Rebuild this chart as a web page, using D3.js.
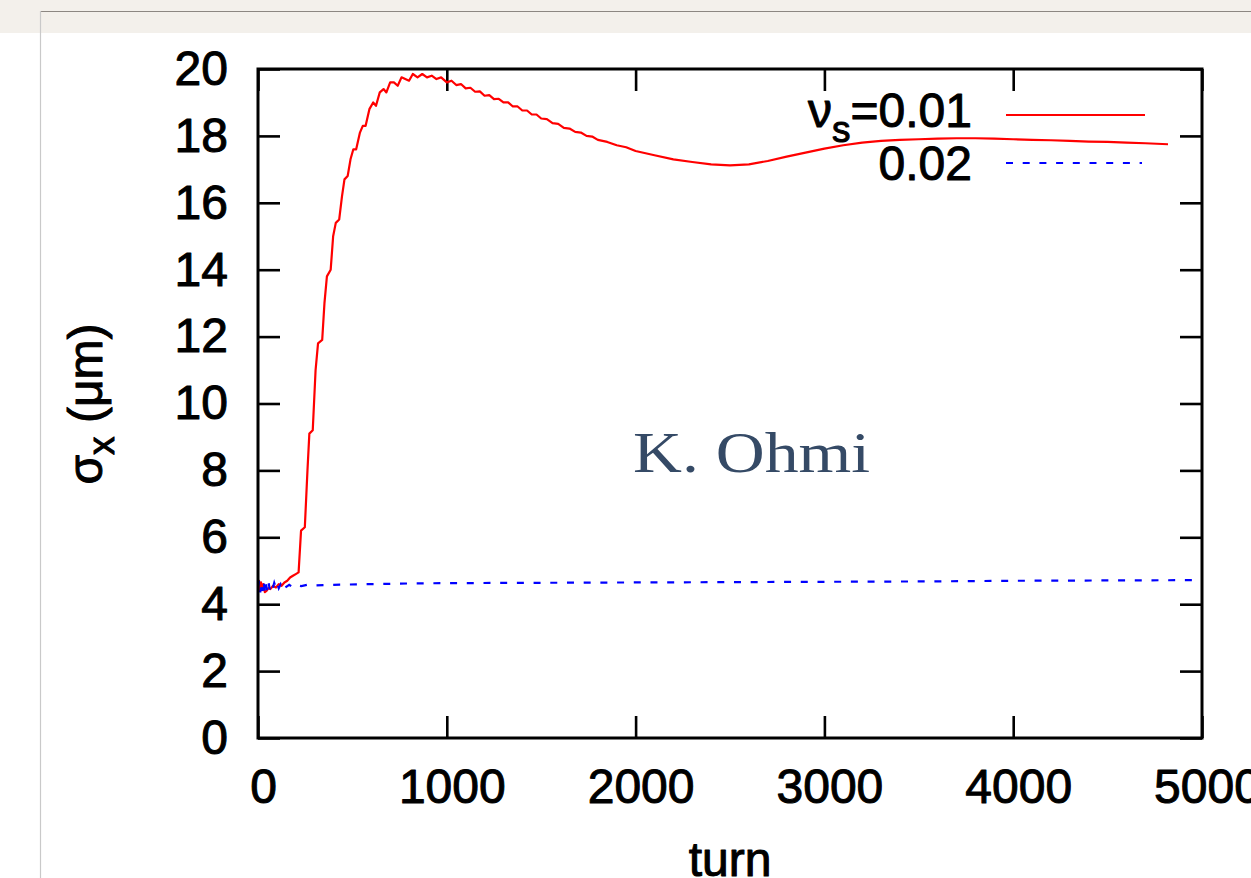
<!DOCTYPE html>
<html>
<head>
<meta charset="utf-8">
<script src="https://cdn.jsdelivr.net/npm/d3@7"></script>
<style>
  html, body { margin: 0; padding: 0; background: #ffffff; }
  svg { display: block; }
</style>
</head>
<body>
<svg id="chart" width="1251" height="878"></svg>
<script>
// Axis ticks
const xTicks = [0, 1000, 2000, 3000, 4000, 5000];
const yTicks = [0, 2, 4, 6, 8, 10, 12, 14, 16, 18, 20];

// Horizontal beam size vs. turn, synchrotron tune 0.01
const turnsA = [0, 5, 10, 16, 22, 28, 36, 45, 55, 65, 80, 95, 110, 125, 140, 155, 170, 185, 200, 215,
  228, 248, 262, 272, 290, 305, 318, 340, 352, 365, 385, 398, 412, 430, 445, 458, 475, 490, 505, 520,
  540, 555, 570, 590, 610, 625, 645, 665, 680, 700, 720, 740, 760, 780, 800, 820, 845, 870, 895, 920,
  945, 970, 1000, 1025, 1050, 1075, 1100, 1125, 1150, 1175, 1200, 1225, 1250, 1275, 1300, 1325, 1350,
  1375, 1400, 1425, 1450, 1475, 1500, 1530, 1560, 1590, 1620, 1650, 1680, 1710, 1740, 1770, 1800,
  1850, 1900, 1950, 2000, 2100, 2200, 2300, 2400, 2500, 2600, 2700, 2800, 2900, 3000, 3100, 3200,
  3300, 3400, 3500, 3600, 3700, 3800, 3900, 4000, 4100, 4200, 4300, 4400, 4500, 4600, 4700, 4820];
const sigmaA = [4.55, 4.7, 4.4, 4.65, 4.42, 4.6, 4.36, 4.4, 4.48, 4.45, 4.55, 4.5, 4.6, 4.55, 4.65, 4.7, 4.8, 4.85, 4.9, 4.95,
  6.2, 6.3, 8.0, 9.1, 9.2, 11.0, 11.8, 11.9, 13.0, 13.8, 14.0, 15.0, 15.4, 15.5, 16.2, 16.7, 16.8, 17.3, 17.6, 17.6,
  18.1, 18.3, 18.3, 18.8, 19.0, 18.9, 19.3, 19.4, 19.3, 19.6, 19.6, 19.5, 19.75, 19.7, 19.65, 19.85, 19.75, 19.85, 19.75, 19.8,
  19.7, 19.75, 19.6, 19.65, 19.52, 19.55, 19.42, 19.44, 19.32, 19.33, 19.2, 19.22, 19.1, 19.11, 19.0, 19.0, 18.88,
  18.88, 18.76, 18.76, 18.64, 18.64, 18.52, 18.5, 18.38, 18.36, 18.24, 18.22, 18.12, 18.1, 18.0, 17.98, 17.88,
  17.82, 17.72, 17.66, 17.55, 17.42, 17.3, 17.22, 17.15, 17.12, 17.15, 17.25, 17.38, 17.5, 17.62, 17.72, 17.8,
  17.85, 17.88, 17.9, 17.92, 17.93, 17.93, 17.92, 17.9, 17.88, 17.87, 17.85, 17.83, 17.82, 17.8, 17.78, 17.75];

// Horizontal beam size vs. turn, synchrotron tune 0.02
const turnsB = [0, 6, 12, 18, 24, 30, 36, 42, 48, 55, 62, 70, 78, 86, 94, 102, 110, 120, 130, 140,
  150, 165, 180, 200, 230, 260, 300, 400, 600, 800, 1000, 1500, 2000, 2500, 3000, 3500, 4000, 4500, 5000];
const sigmaB = [4.5, 4.7, 4.35, 4.65, 4.4, 4.7, 4.38, 4.62, 4.42, 4.68, 4.45, 4.6, 4.47, 4.64, 4.5, 4.62, 4.48, 4.6, 4.5, 4.6,
  4.52, 4.58, 4.52, 4.58, 4.54, 4.58, 4.56, 4.58, 4.6, 4.62, 4.63, 4.64, 4.65, 4.66, 4.67, 4.68, 4.7, 4.71, 4.72];

const seriesNames = ["0.01", "0.02"];

const svg = d3.select("#chart");
const W = 1251, H = 878;
const sans = "'Liberation Sans', Arial, Helvetica, sans-serif";

// Page backdrop: textured header band and margin rules
svg.append("rect").attr("x", 0).attr("y", 0).attr("width", W).attr("height", H).attr("fill", "#ffffff");
svg.append("rect").attr("x", 0).attr("y", 0).attr("width", W).attr("height", 33).attr("fill", "#f3f0eb");
svg.append("line").attr("x1", 40.5).attr("x2", W).attr("y1", 11.5).attr("y2", 11.5)
  .attr("stroke", "#8c8782").attr("stroke-width", 1);
svg.append("line").attr("x1", 40.5).attr("x2", 40.5).attr("y1", 11).attr("y2", H)
  .attr("stroke", "#c9c9c9").attr("stroke-width", 1.2);

const plotLeft = 258, plotRight = 1202, plotTop = 69, plotBottom = 738;
const x = d3.scaleLinear().domain([0, 5000]).range([plotLeft, plotRight]);
const y = d3.scaleLinear().domain([0, 20]).range([plotBottom, plotTop]);

const tickLen = 22, fs = 48;

// Slightly heavier glyphs, like the plotting terminal's Helvetica
function ink(sel) {
  return sel.style("font-family", sans).style("fill", "#000")
    .style("stroke", "#000").style("stroke-width", "1px").style("stroke-linejoin", "round");
}

function styleAxis(g) {
  g.select(".domain").remove();
  g.selectAll(".tick line").attr("stroke", "#000").attr("stroke-width", 2.6);
  g.selectAll(".tick text").attr("font-size", fs).call(ink);
}

svg.append("g").attr("transform", `translate(0,${plotBottom})`)
  .call(d3.axisBottom(x).tickValues(xTicks).tickFormat(d3.format("d")).tickSizeInner(-tickLen).tickSizeOuter(0).tickPadding(31))
  .call(styleAxis)
  .call(g => g.selectAll(".tick text").attr("dx", 5));
svg.append("g").attr("transform", `translate(0,${plotTop})`)
  .call(d3.axisTop(x).tickValues(xTicks).tickFormat("").tickSizeInner(-tickLen).tickSizeOuter(0))
  .call(styleAxis);
svg.append("g").attr("transform", `translate(${plotLeft},0)`)
  .call(d3.axisLeft(y).tickValues(yTicks).tickFormat(d3.format("d")).tickSizeInner(-tickLen).tickSizeOuter(0).tickPadding(30))
  .call(styleAxis);
svg.append("g").attr("transform", `translate(${plotRight},0)`)
  .call(d3.axisRight(y).tickValues(yTicks).tickFormat("").tickSizeInner(-tickLen).tickSizeOuter(0))
  .call(styleAxis);

// Curves
svg.append("clipPath").attr("id", "plotClip").append("rect")
  .attr("x", plotLeft).attr("y", plotTop).attr("width", plotRight - plotLeft).attr("height", plotBottom - plotTop);

const line = d3.line().x(d => x(d[0])).y(d => y(d[1]));
const plot = svg.append("g").attr("clip-path", "url(#plotClip)");

plot.append("path").datum(d3.zip(turnsA, sigmaA)).attr("d", line)
  .attr("fill", "none").attr("stroke", "#ff0000").attr("stroke-width", 2.2).attr("stroke-linejoin", "round");
plot.append("path").datum(d3.zip(turnsB, sigmaB)).attr("d", line)
  .attr("fill", "none").attr("stroke", "#0000ff").attr("stroke-width", 2.2).attr("stroke-dasharray", "7,9.7");

// Frame
svg.append("rect").attr("x", plotLeft).attr("y", plotTop).attr("width", plotRight - plotLeft).attr("height", plotBottom - plotTop)
  .attr("fill", "none").attr("stroke", "#000").attr("stroke-width", 3);

// Legend
const leg1 = svg.append("text").attr("x", 972).attr("y", 127).attr("text-anchor", "end").attr("font-size", fs).call(ink);
leg1.append("tspan").text("ν");
leg1.append("tspan").attr("font-size", 37).attr("dy", 15).text("s");
leg1.append("tspan").attr("dy", -15).text("=" + seriesNames[0]);
svg.append("line").attr("x1", 1006).attr("x2", 1145).attr("y1", 115).attr("y2", 115)
  .attr("stroke", "#ff0000").attr("stroke-width", 2);

svg.append("text").attr("x", 972).attr("y", 180).attr("text-anchor", "end").attr("font-size", fs).call(ink).text(seriesNames[1]);
svg.append("line").attr("x1", 1006).attr("x2", 1142).attr("y1", 163).attr("y2", 163)
  .attr("stroke", "#0000ff").attr("stroke-width", 2).attr("stroke-dasharray", "7,9.7");

// Axis titles
svg.append("text").attr("x", 730).attr("y", 876).attr("text-anchor", "middle").attr("font-size", fs).call(ink).text("turn");

const yl = svg.append("text").attr("transform", "translate(102,404) rotate(-90)")
  .attr("text-anchor", "middle").attr("font-size", fs).call(ink);
yl.append("tspan").text("σ");
yl.append("tspan").attr("font-size", 37).attr("dy", 12).text("x");
yl.append("tspan").attr("dy", -12).text(" (μm)");

// Author credit
svg.append("text").attr("x", 633).attr("y", 472)
  .style("font-family", "'Liberation Serif', 'DejaVu Serif', serif").attr("font-size", 58)
  .attr("textLength", 237).attr("lengthAdjust", "spacingAndGlyphs")
  .style("fill", "#354a66").text("K. Ohmi");
</script>
</body>
</html>
